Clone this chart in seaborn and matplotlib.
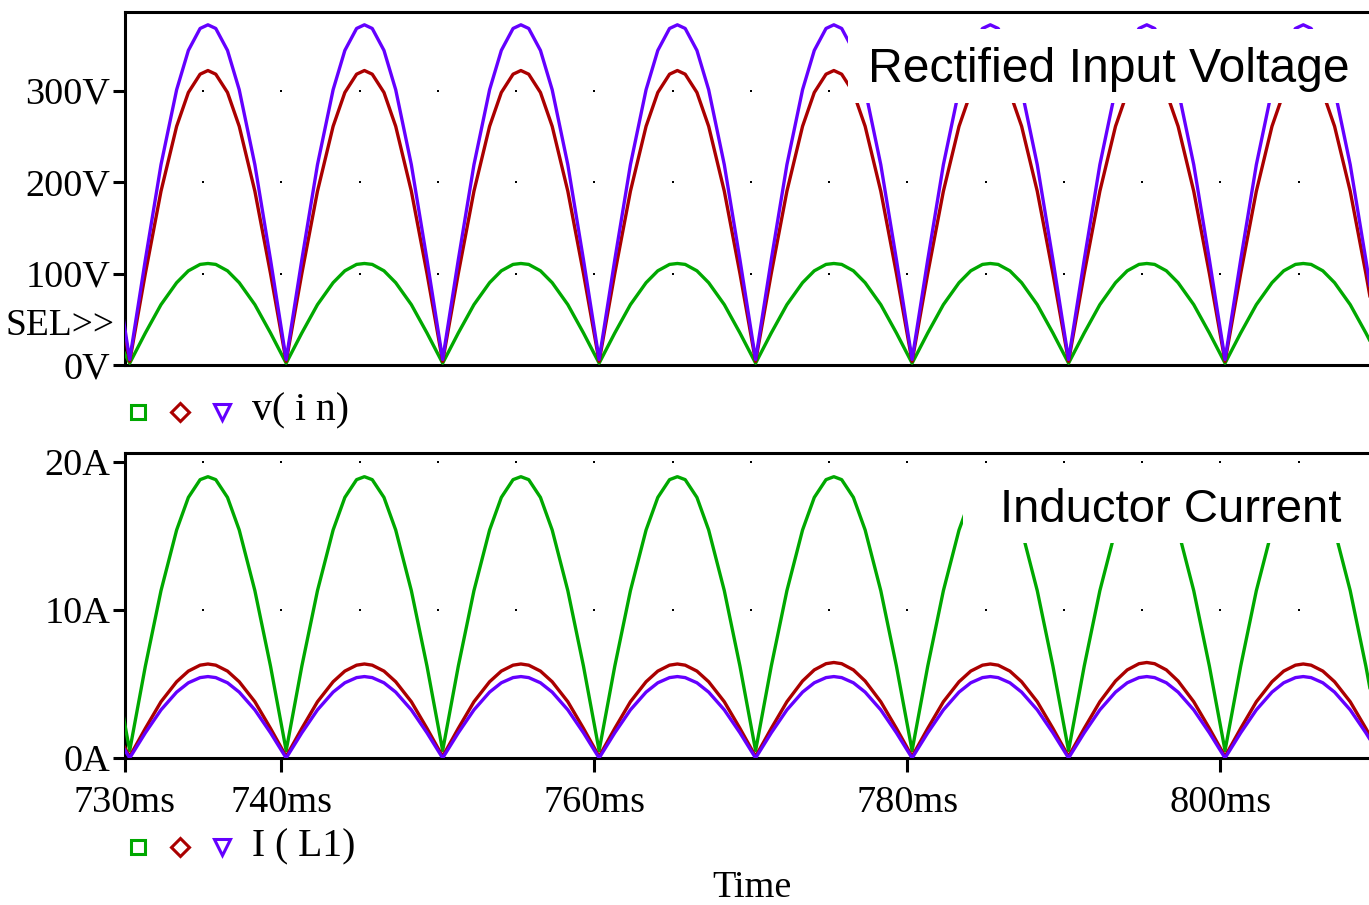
import numpy as np
import pandas as pd
import matplotlib
matplotlib.use("Agg")
import matplotlib.pyplot as plt
from matplotlib.lines import Line2D
from matplotlib.patches import Rectangle
import seaborn as sns

# ---------------- data ----------------
# sample offsets (ms) inside each 10 ms half-wave, valleys near 730.3 + 10 k
offsets = [0, 1, 2, 3, 3.75, 4.5, 5, 5.5, 6.25, 7, 8, 9]
time_ms = [729.3] + [round(730.3 + 10 * c + o, 2) for c in range(8) for o in offsets] + [810.3]

series_names = ["green", "red", "blue"]

# Rectified input voltage v(in) [V]
v_green = [35,
           2, 35, 66, 90, 103, 110, 111, 110, 103, 90, 66, 35,
           2, 35, 66, 90, 103, 110, 111, 110, 103, 90, 66, 35,
           2, 35, 66, 90, 103, 110, 111, 110, 103, 90, 66, 35,
           2, 35, 66, 90, 103, 110, 111, 110, 103, 90, 66, 35,
           2, 35, 66, 90, 103, 110, 111, 110, 103, 90, 66, 35,
           2, 35, 66, 90, 103, 110, 111, 110, 103, 90, 66, 35,
           2, 35, 66, 90, 103, 110, 111, 110, 103, 90, 66, 35,
           2, 35, 66, 90, 103, 110, 111, 110, 103, 90, 66, 35,
           2]
v_red = [100,
         4, 100, 190, 261, 298, 318, 322, 318, 298, 261, 190, 100,
         4, 100, 190, 261, 298, 318, 322, 318, 298, 261, 190, 100,
         4, 100, 190, 261, 298, 318, 322, 318, 298, 261, 190, 100,
         4, 100, 190, 261, 298, 318, 322, 318, 298, 261, 190, 100,
         4, 100, 190, 261, 298, 318, 322, 318, 298, 261, 190, 100,
         4, 100, 190, 261, 298, 318, 322, 318, 298, 261, 190, 100,
         4, 100, 190, 261, 298, 318, 322, 318, 298, 261, 190, 100,
         4, 100, 190, 261, 298, 318, 322, 318, 298, 261, 190, 100,
         4]
v_blue = [115,
          6, 115, 219, 301, 344, 368, 372, 368, 344, 301, 219, 115,
          6, 115, 219, 301, 344, 368, 372, 368, 344, 301, 219, 115,
          6, 115, 219, 301, 344, 368, 372, 368, 344, 301, 219, 115,
          6, 115, 219, 301, 344, 368, 372, 368, 344, 301, 219, 115,
          6, 115, 219, 301, 344, 368, 372, 368, 344, 301, 219, 115,
          6, 115, 219, 301, 344, 368, 372, 368, 344, 301, 219, 115,
          6, 115, 219, 301, 344, 368, 372, 368, 344, 301, 219, 115,
          6, 115, 219, 301, 344, 368, 372, 368, 344, 301, 219, 115,
          6]

# Inductor current I(L1) [A]
i_green = [6.2,
           0.5, 6.2, 11.3, 15.4, 17.6, 18.8, 19.0, 18.8, 17.6, 15.4, 11.3, 6.2,
           0.5, 6.2, 11.3, 15.4, 17.6, 18.8, 19.0, 18.8, 17.6, 15.4, 11.3, 6.2,
           0.5, 6.2, 11.3, 15.4, 17.6, 18.8, 19.0, 18.8, 17.6, 15.4, 11.3, 6.2,
           0.5, 6.2, 11.3, 15.4, 17.6, 18.8, 19.0, 18.8, 17.6, 15.4, 11.3, 6.2,
           0.5, 6.2, 11.3, 15.4, 17.6, 18.8, 19.0, 18.8, 17.6, 15.4, 11.3, 6.2,
           0.5, 6.2, 11.3, 15.4, 17.6, 18.8, 19.0, 18.8, 17.6, 15.4, 11.3, 6.2,
           0.5, 6.2, 11.3, 15.4, 17.6, 18.8, 19.0, 18.8, 17.6, 15.4, 11.3, 6.2,
           0.5, 6.2, 11.3, 15.4, 17.6, 18.8, 19.0, 18.8, 17.6, 15.4, 11.3, 6.2,
           0.5]
i_red = [2.0,
         0.1, 2.0, 3.8, 5.15, 5.87, 6.27, 6.35, 6.27, 5.87, 5.15, 3.8, 2.0,
         0.1, 2.0, 3.8, 5.15, 5.87, 6.27, 6.35, 6.27, 5.87, 5.15, 3.8, 2.0,
         0.1, 2.0, 3.8, 5.15, 5.87, 6.27, 6.35, 6.27, 5.87, 5.15, 3.8, 2.0,
         0.1, 2.0, 3.8, 5.15, 5.87, 6.27, 6.35, 6.27, 5.87, 5.15, 3.8, 2.0,
         0.1, 2.0, 3.8, 5.2, 5.95, 6.37, 6.45, 6.37, 5.95, 5.2, 3.8, 2.0,
         0.1, 2.0, 3.8, 5.15, 5.87, 6.27, 6.35, 6.27, 5.87, 5.15, 3.8, 2.0,
         0.1, 2.0, 3.8, 5.2, 5.95, 6.37, 6.45, 6.37, 5.95, 5.2, 3.8, 2.0,
         0.1, 2.0, 3.8, 5.15, 5.87, 6.27, 6.35, 6.27, 5.87, 5.15, 3.8, 2.0,
         0.1]
i_blue = [1.7,
          0.0, 1.7, 3.25, 4.45, 5.08, 5.43, 5.5, 5.43, 5.08, 4.45, 3.25, 1.7,
          0.0, 1.7, 3.25, 4.45, 5.08, 5.43, 5.5, 5.43, 5.08, 4.45, 3.25, 1.7,
          0.0, 1.7, 3.25, 4.45, 5.08, 5.43, 5.5, 5.43, 5.08, 4.45, 3.25, 1.7,
          0.0, 1.7, 3.25, 4.45, 5.08, 5.43, 5.5, 5.43, 5.08, 4.45, 3.25, 1.7,
          0.0, 1.7, 3.25, 4.45, 5.08, 5.43, 5.5, 5.43, 5.08, 4.45, 3.25, 1.7,
          0.0, 1.7, 3.25, 4.45, 5.08, 5.43, 5.5, 5.43, 5.08, 4.45, 3.25, 1.7,
          0.0, 1.7, 3.25, 4.45, 5.08, 5.43, 5.5, 5.43, 5.08, 4.45, 3.25, 1.7,
          0.0, 1.7, 3.25, 4.45, 5.08, 5.43, 5.5, 5.43, 5.08, 4.45, 3.25, 1.7,
          0.0]

v_ticks = [0, 100, 200, 300]
v_ticklabels = ["0V", "100V", "200V", "300V"]
i_ticks = [0, 10, 20]
i_ticklabels = ["0A", "10A", "20A"]
t_ticks = [730, 740, 760, 780, 800]
t_ticklabels = ["730ms", "740ms", "760ms", "780ms", "800ms"]

# ---------------- style ----------------
GREEN = "#00A800"
RED = "#AA0000"
BLUE = "#6400FF"
palette = dict(zip(series_names, [GREEN, RED, BLUE]))

sns.set_style("white")
plt.rcParams["font.family"] = ["Liberation Serif", "DejaVu Serif"]
plt.rcParams["text.color"] = "black"
plt.rcParams["axes.labelcolor"] = "black"
plt.rcParams["xtick.color"] = "black"
plt.rcParams["ytick.color"] = "black"

W, H = 1369, 905
fig = plt.figure(figsize=(W / 100, H / 100), dpi=100)


def fx(px):
    return px / W


def fy(py):
    return 1 - py / H


ax1 = fig.add_axes([fx(125), fy(365), 1 - fx(125), (365 - 12) / H])
ax2 = fig.add_axes([fx(125), fy(758), 1 - fx(125), (758 - 453) / H])

XMIN, XMAX = 730, 809.5


def long_df(cols):
    frames = []
    for name, vals in zip(series_names, cols):
        frames.append(pd.DataFrame({"time": time_ms, "value": vals, "series": name}))
    return pd.concat(frames, ignore_index=True)


df_v = long_df([v_green, v_red, v_blue])
df_i = long_df([i_green, i_red, i_blue])

for ax, df, ylim, yt, ytl in [
    (ax1, df_v, (0, 386), v_ticks, v_ticklabels),
    (ax2, df_i, (0, 20.6), i_ticks, i_ticklabels),
]:
    sns.lineplot(data=df, x="time", y="value", hue="series", hue_order=series_names,
                 palette=palette, linewidth=2.4, legend=False, ax=ax, zorder=3)
    ax.set_xlim(XMIN, XMAX)
    ax.set_ylim(*ylim)
    ax.set_xlabel("")
    ax.set_ylabel("")
    ax.set_yticks(yt)
    ax.set_yticklabels(ytl)
    ax.tick_params(axis="y", direction="out", length=8.5, width=2.2, pad=2,
                   labelsize=27.5, colors="black", left=True)
    for s in ["top", "left", "bottom"]:
        ax.spines[s].set_visible(True)
        ax.spines[s].set_color("black")
        ax.spines[s].set_linewidth(2.2)
    ax.spines["right"].set_visible(False)
    ax.set_facecolor("white")
    # grid dots at 5 ms and major y positions
    gx = np.arange(735, XMAX, 5)
    gy = [v for v in yt if v > 0]
    GX, GY = np.meshgrid(gx, gy)
    ax.scatter(GX.ravel(), GY.ravel(), s=1.0, c="black", marker="s", linewidths=0, zorder=1)

ax1.set_xticks([])
ax1.tick_params(axis="x", length=0, labelbottom=False)
ax2.set_xticks(t_ticks)
ax2.set_xticklabels(t_ticklabels)
ax2.tick_params(axis="x", direction="out", length=10, width=2.2, pad=10,
                labelsize=27.5, colors="black", bottom=True)

# white label boxes covering the curves
ax1.add_patch(Rectangle(((848 - 125) / 1244, (365 - 103) / 353),
                        1.0, (103 - 29) / 353, transform=ax1.transAxes,
                        facecolor="white", edgecolor="none", zorder=5, clip_on=False))
ax2.add_patch(Rectangle(((963 - 125) / 1244, (758 - 543) / 305),
                        1.0, (543 - 467) / 305, transform=ax2.transAxes,
                        facecolor="white", edgecolor="none", zorder=5, clip_on=False))

fig.text(fx(868), fy(82), "Rectified Input Voltage", family="Liberation Sans",
         fontsize=34.7, va="baseline", ha="left", zorder=6, color="black")
fig.text(fx(1000), fy(522), "Inductor Current", family="Liberation Sans",
         fontsize=34, va="baseline", ha="left", zorder=6, color="black")

# SEL>> marker text
fig.text(fx(115), fy(335), "SEL>>", fontsize=27, ha="right", va="baseline")

# legend rows
for ycen, ybase, label in [(412, 420, "v( i n)"), (847, 856, "I ( L1)")]:
    for xc, mk, col, ms in [(138, "s", GREEN, 10.5), (180, "D", RED, 9), (222, "v", BLUE, 11)]:
        fig.add_artist(Line2D([fx(xc)], [fy(ycen)], transform=fig.transFigure,
                              marker=mk, ms=ms, mfc="none", mec=col, mew=2.2, ls="none"))
    fig.text(fx(252), fy(ybase), label, fontsize=28.5, ha="left", va="baseline")

fig.text(fx(752), fy(897), "Time", fontsize=27.5, ha="center", va="baseline")

fig.savefig("out.png", dpi=100, facecolor="white")
